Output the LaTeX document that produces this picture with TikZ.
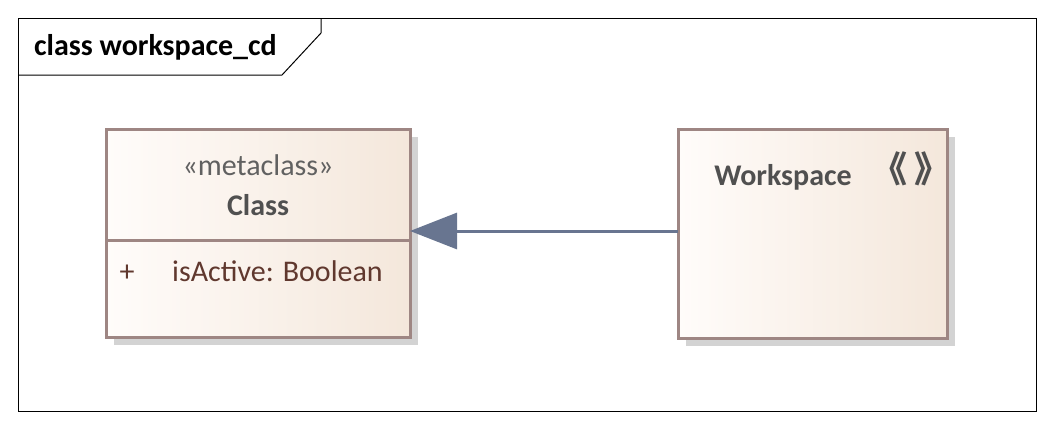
\documentclass[tikz,border=0pt]{standalone}
\usepackage{fontspec}
\setmainfont{Carlito}
\newfontfamily\cjk{Noto Sans CJK SC}
\usepackage{tikz}
\usetikzlibrary{calc,arrows.meta,positioning,backgrounds}

\definecolor{boxline}{RGB}{158,134,131}
\definecolor{boxleft}{RGB}{255,252,250}
\definecolor{boxright}{RGB}{244,231,219}
\definecolor{shade}{RGB}{211,211,211}
\definecolor{genline}{RGB}{104,117,144}
\definecolor{nametext}{RGB}{80,80,80}
\definecolor{attrtext}{RGB}{96,56,46}

\tikzstyle{classbox} = [draw=boxline, line width=3pt, left color=boxleft, right color=boxright]
\tikzstyle{boxshadow} = [fill=shade, draw=none]
\tikzstyle{umltext} = [inner sep=0pt, anchor=base, font=\fontsize{30}{36}\selectfont]
\tikzstyle{generalize} = [line width=3pt, draw=genline, -{Triangle[length=47pt,width=36pt,fill=genline]}]

\begin{document}
\begin{tikzpicture}[x=1pt, y=-1pt]

    \useasboundingbox (0,0) rectangle (1053,429);

    % diagram frame and its name tab
    \draw[line width=1pt] (18,18) rectangle (1036,411);
    \draw[line width=1pt] (18,75) -- (282,75) -- (321,33) -- (321,18);
    \node[umltext, anchor=base west, font=\fontsize{30}{36}\selectfont\bfseries] (title) at (34,55) {class workspace\_cd};

    % corners of the two classes
    \coordinate (C1) at (106,129);
    \coordinate (C2) at (410,337);
    \coordinate (W1) at (678,129);
    \coordinate (W2) at (947,338);

    % shadows
    \fill[boxshadow] ($(C1)+(8,8)$) rectangle ($(C2)+(8,8)$);
    \fill[boxshadow] ($(W1)+(8,8)$) rectangle ($(W2)+(8,8)$);

    % metaclass Class
    \draw[classbox] (C1) rectangle (C2);
    \draw[draw=boxline, line width=3pt] (106,240) -- (410,240);
    \node[umltext, text=nametext!90!white] (stereo) at (258,175) {«metaclass»};
    \node[umltext, text=nametext, font=\fontsize{30}{36}\selectfont\bfseries] (classname) at (258,215) {Class};
    \node[umltext, text=attrtext] (plus) at (127,281) {+};
    \node[umltext, anchor=base west, text=attrtext] (attr) at (172,281) {isActive: Boolean};

    % Workspace
    \draw[classbox] (W1) rectangle (W2);
    \node[umltext, text=nametext, font=\fontsize{30}{36}\selectfont\bfseries] (wsname) at (783,185) {Workspace};
    \node[inner sep=0pt, text=nametext, font=\cjk\bfseries\fontsize{36}{40}\selectfont] (wsstereo) at (911,169) {《\hspace{7pt}》};

    % generalization
    \coordinate (G1) at (678,231);
    \coordinate (G2) at (410,231);
    \draw[generalize] (G1) -- (G2);

\end{tikzpicture}
\end{document}
